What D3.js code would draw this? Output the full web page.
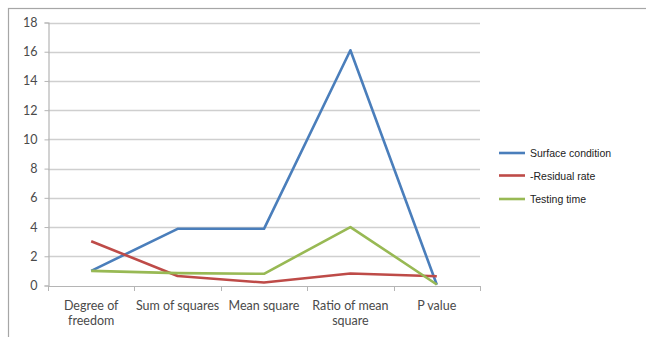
<!DOCTYPE html>
<html>
<head>
<meta charset="utf-8">
<script src="https://cdn.jsdelivr.net/npm/d3@7"></script>
<style>
  html, body { margin: 0; padding: 0; background: #fff; }
  svg { display: block; }
</style>
</head>
<body>
<svg id="chart" width="646" height="337"></svg>
<script>
// ANOVA statistics plotted per factor
const categories = ["Degree of freedom", "Sum of squares", "Mean square", "Ratio of mean square", "P value"];
const surfaceCondition = [1.0, 3.88, 3.88, 16.1, 0.05];
const residualRate = [3.03, 0.65, 0.2, 0.82, 0.63];
const testingTime = [1.0, 0.85, 0.8, 4.0, 0.07];
const yTicks = [0, 2, 4, 6, 8, 10, 12, 14, 16, 18];
const seriesNames = ["Surface condition", "-Residual rate", "Testing time"];
const seriesColors = ["#4a7ebb", "#be4b48", "#98b954"];
const seriesValues = [surfaceCondition, residualRate, testingTime];

const svg = d3.select("#chart");
const axisFont = "Lato, 'Liberation Sans', sans-serif";
const axisSize = 12.5;
const textColor = "#4a4a4a";
const gridColor = "#cfcfcf";

// outer chart frame (top and left edges visible in the window)
svg.append("rect")
  .attr("x", 8.5).attr("y", 8.5)
  .attr("width", 700).attr("height", 400)
  .attr("fill", "none").attr("stroke", "#a6a6a6").attr("stroke-width", 1.2);

const plot = { left: 48, right: 480, top: 22.5, bottom: 285.5 };

const x = d3.scaleBand().domain(categories).range([plot.left, plot.right]).padding(0);
const y = d3.scaleLinear().domain([0, 18]).range([plot.bottom, plot.top]);

// horizontal gridlines
svg.append("g")
  .selectAll("line")
  .data(yTicks.filter(d => d > 0))
  .join("line")
  .attr("x1", plot.left).attr("x2", plot.right)
  .attr("y1", d => Math.round(y(d)) + 0.5).attr("y2", d => Math.round(y(d)) + 0.5)
  .attr("stroke", gridColor).attr("stroke-width", 1.3);

// y axis
const yAxis = svg.append("g")
  .attr("transform", `translate(${plot.left + 0.5},0)`)
  .call(d3.axisLeft(y).tickValues(yTicks).tickSize(4).tickPadding(7));
yAxis.select(".domain").attr("stroke", "#b5b5b5").attr("stroke-width", 1.2);
yAxis.selectAll(".tick line").attr("stroke", "#b5b5b5");
yAxis.selectAll(".tick text")
  .attr("font-family", axisFont).attr("font-size", axisSize).attr("fill", textColor);

// x axis: tick marks sit on category boundaries, labels centred in each band
const boundaries = categories.map(c => x(c)).concat([plot.right]);
const xAxisG = svg.append("g");
xAxisG.append("line")
  .attr("x1", plot.left).attr("x2", plot.right)
  .attr("y1", Math.round(y(0)) + 0.5).attr("y2", Math.round(y(0)) + 0.5)
  .attr("stroke", "#b5b5b5").attr("stroke-width", 1.2);
xAxisG.selectAll("line.tk")
  .data(boundaries)
  .join("line").attr("class", "tk")
  .attr("x1", d => Math.round(d) + 0.5).attr("x2", d => Math.round(d) + 0.5)
  .attr("y1", Math.round(y(0))).attr("y2", Math.round(y(0)) + 5)
  .attr("stroke", "#b5b5b5");

function wrapWords(label, maxWidth, measure) {
  const words = label.split(" ");
  const lines = [];
  let cur = "";
  for (const w of words) {
    const test = cur ? cur + " " + w : w;
    if (cur && measure(test) > maxWidth) { lines.push(cur); cur = w; }
    else cur = test;
  }
  if (cur) lines.push(cur);
  return lines;
}

const measureText = svg.append("text")
  .attr("font-family", axisFont).attr("font-size", axisSize).attr("visibility", "hidden");
const measure = s => { measureText.text(s); return measureText.node().getComputedTextLength(); };

const xLabels = svg.append("g");
categories.forEach(c => {
  const lines = wrapWords(c, x.bandwidth() + 4, measure);
  const t = xLabels.append("text")
    .attr("text-anchor", "middle")
    .attr("font-family", axisFont).attr("font-size", axisSize).attr("fill", textColor);
  lines.forEach((ln, i) => {
    t.append("tspan")
      .attr("x", x(c) + x.bandwidth() / 2)
      .attr("y", 310 + i * 14.5)
      .text(ln);
  });
});
measureText.remove();

// series lines
const line = d3.line()
  .x((d, i) => x(categories[i]) + x.bandwidth() / 2)
  .y(d => y(d));

svg.append("g")
  .selectAll("path")
  .data(seriesValues)
  .join("path")
  .attr("d", d => line(d))
  .attr("fill", "none")
  .attr("stroke", (d, i) => seriesColors[i])
  .attr("stroke-width", 2.6)
  .attr("stroke-linejoin", "round")
  .attr("stroke-linecap", "butt");

// legend
const legend = svg.append("g").attr("transform", "translate(499,153)");
const rows = legend.selectAll("g")
  .data(seriesNames)
  .join("g")
  .attr("transform", (d, i) => `translate(0,${[0, 22.5, 46][i]})`);
rows.append("line")
  .attr("x1", 0).attr("x2", 26).attr("y1", 0).attr("y2", 0)
  .attr("stroke", (d, i) => seriesColors[i]).attr("stroke-width", 2.6);
rows.append("text")
  .attr("x", 31).attr("y", 4)
  .attr("font-family", "'Liberation Sans', Arial, sans-serif")
  .attr("font-size", 10.5).attr("fill", "#222")
  .text(d => d);
</script>
</body>
</html>
